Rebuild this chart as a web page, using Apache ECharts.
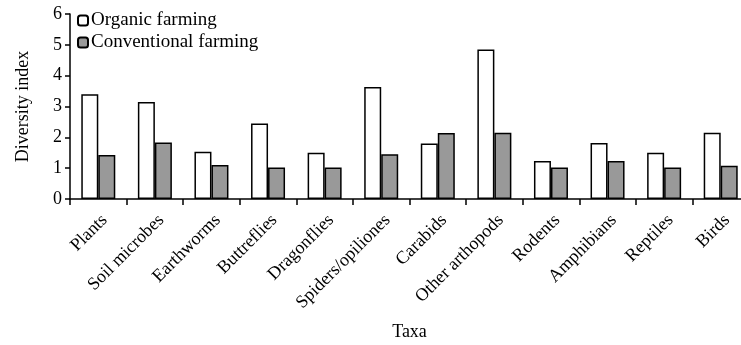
<!DOCTYPE html>
<html><head><meta charset="utf-8">
<script src="https://cdn.jsdelivr.net/npm/echarts@6/dist/echarts.min.js"></script>
<style>html,body{margin:0;padding:0;background:#fff}#c{width:741px;height:345px}</style>
</head><body><div id="c"></div>
<script>
var categories = ['Plants','Soil microbes','Earthworms','Buttreflies','Dragonflies','Spiders/opiliones','Carabids','Other arthopods','Rodents','Amphibians','Reptiles','Birds'];
var organic = [3.4, 3.15, 1.53, 2.45, 1.5, 3.63, 1.8, 4.85, 1.23, 1.82, 1.5, 2.15];
var conventional = [1.43, 1.83, 1.1, 1.02, 1.02, 1.45, 2.14, 2.15, 1.02, 1.23, 1.02, 1.08];
var yTicks = [0,1,2,3,4,5,6];
var font = 'Liberation Serif';
var chart = echarts.init(document.getElementById('c'));
chart.setOption({
  animation: false,
  textStyle: {fontFamily: font, color: '#000'},
  legend: {
    orient: 'vertical', left: 77, top: 11, padding: 0, itemWidth: 10, itemHeight: 10, itemGap: 3,
    textStyle: {fontFamily: font, fontSize: 19, lineHeight: 19, color: '#000', padding: [0,0,0,-2]},
    data: ['Organic farming','Conventional farming']
  },
  grid: {left: 70, right: -8, top: 14, bottom: 146, containLabel: false, outerBoundsMode: 'none'},
  xAxis: {
    type: 'category', data: categories,
    name: 'Taxa', nameLocation: 'middle', nameGap: 124,
    nameTextStyle: {fontFamily: font, fontSize: 18, color: '#000'},
    axisLine: {lineStyle: {color: '#000', width: 1.5}},
    axisTick: {show: true, length: 6, lineStyle: {color: '#000', width: 1.5}},
    axisLabel: {rotate: 45, fontFamily: font, fontSize: 18, color: '#000', interval: 0, margin: 12, verticalAlign: 'top'}
  },
  yAxis: {
    type: 'value', min: 0, max: 6, interval: 1,
    name: 'Diversity index', nameLocation: 'middle', nameGap: 38,
    nameTextStyle: {fontFamily: font, fontSize: 18, color: '#000'},
    axisLine: {show: true, lineStyle: {color: '#000', width: 1.5}},
    axisTick: {show: true, length: 5, lineStyle: {color: '#000', width: 1.5}},
    splitLine: {show: false},
    axisLabel: {fontFamily: font, fontSize: 18, color: '#000', margin: 8,
      formatter: function(v){ return yTicks.indexOf(v) >= 0 ? String(v) : ''; }}
  },
  series: [
    {name: 'Organic farming', type: 'bar', data: organic, barWidth: 17, barGap: '0%',
     itemStyle: {color: '#fff', borderColor: '#000', borderWidth: 1.5}},
    {name: 'Conventional farming', type: 'bar', data: conventional, barWidth: 17,
     itemStyle: {color: '#999999', borderColor: '#000', borderWidth: 1.5}}
  ]
});
</script></body></html>
